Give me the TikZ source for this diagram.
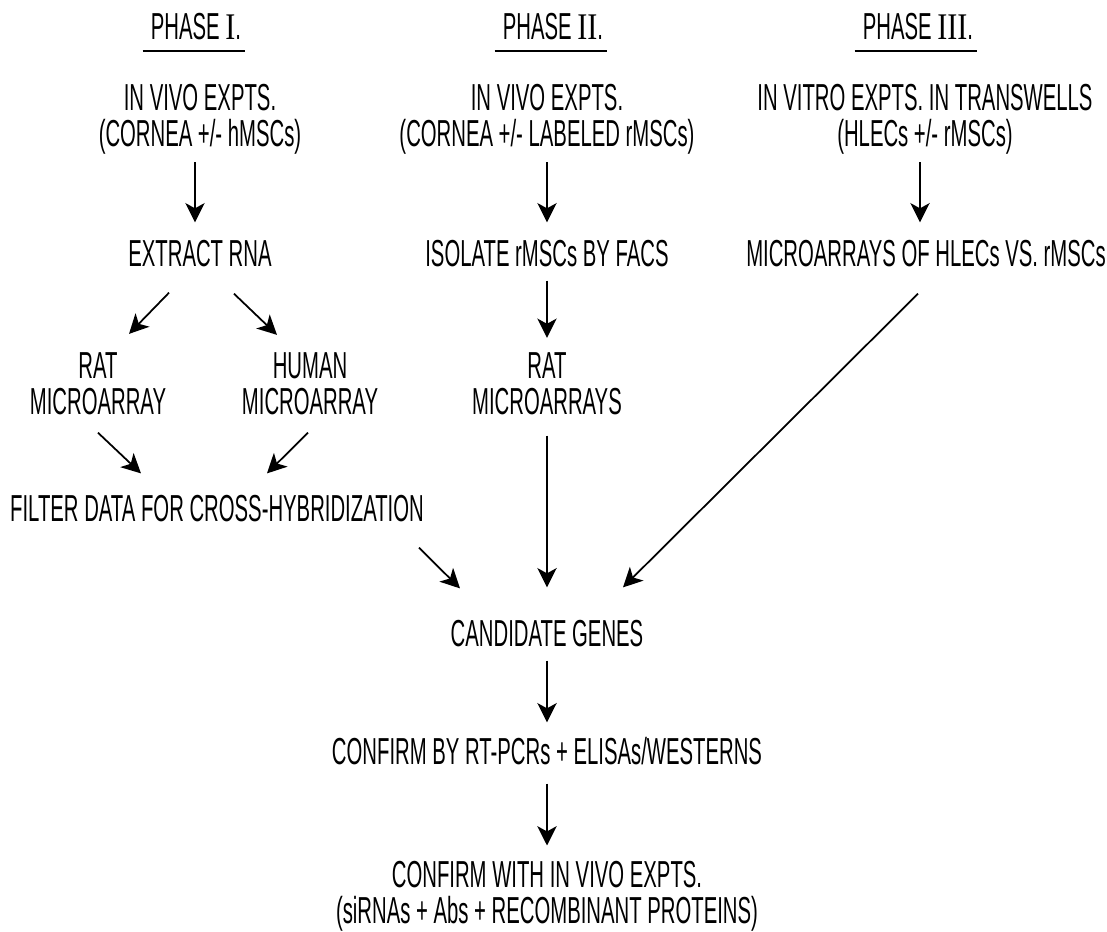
\documentclass[tikz,border=0pt]{standalone}
\usepackage{fontspec}
\setmainfont{Liberation Sans}[FakeStretch=0.54]
\newfontfamily\numfont{Liberation Serif}[FakeStretch=0.8]
\usepackage{tikz}
\usetikzlibrary{
  calc,        % Offsets from node anchors
  arrows.meta  % Stealth tips
}

\newcommand{\rnum}[1]{{\numfont #1}}

\begin{document}
\begin{tikzpicture}[x=0.02cm, y=-0.02cm,
    every node/.style={inner sep=0pt, anchor=base, align=center,
      font=\fontsize{21.4pt}{21pt}\selectfont},
    arr/.style={-{Stealth[length=11pt, width=11pt, inset=3pt]}, line width=1pt},
    uline/.style={line width=1.2pt}]
    \useasboundingbox (0,0) rectangle (1107,932);

    % Phase titles
    \node (phI) at (196,40) {PHASE \rnum{I}.};
    \node (phII) at (553,40) {PHASE \rnum{II}.};
    \node (phIII) at (918,40) {PHASE \rnum{III}.};
    \draw[uline] ($(phI.base west)+(-8,11)$) -- ($(phI.base east)+(4,11)$);
    \draw[uline] ($(phII.base west)+(-8,11)$) -- ($(phII.base east)+(4,11)$);
    \draw[uline] ($(phIII.base west)+(-8,11)$) -- ($(phIII.base east)+(4,11)$);

    % Experiments (base = last line)
    \node (vivoI) at (200,147) {IN VIVO EXPTS.\\(CORNEA +/- hMSCs)};
    \node (vivoII) at (547,147) {IN VIVO EXPTS.\\(CORNEA +/- LABELED rMSCs)};
    \node (vitro) at (925,147) {IN VITRO EXPTS. IN TRANSWELLS\\(HLECs +/- rMSCs)};

    % Second row
    \node (extract) at (200,267) {EXTRACT RNA};
    \node (isolate) at (547,267) {ISOLATE rMSCs BY FACS};
    \node (arrHL) at (926,267) {MICROARRAYS OF HLECs VS. rMSCs};

    % Microarrays
    \node (ratI) at (98,415) {RAT\\MICROARRAY};
    \node (human) at (310,415) {HUMAN\\MICROARRAY};
    \node (ratII) at (547,415) {RAT\\MICROARRAYS};
    \node (filter) at (217,522) {FILTER DATA FOR CROSS-HYBRIDIZATION};

    % Common steps
    \node (genes) at (547,647) {CANDIDATE GENES};
    \node (pcr) at (547,765) {CONFIRM BY RT-PCRs + ELISAs/WESTERNS};
    \node (final) at (547,924) {CONFIRM WITH IN VIVO EXPTS.\\(siRNAs + Abs + RECOMBINANT PROTEINS)};

    % Arrows, phase I
    \draw[arr] ($(vivoI.south)+(-5,7)$) -- ($(extract.north)+(-5,-18)$);
    \draw[arr] ($(extract.south)+(-31,25)$) -- ($(ratI.north)+(31,-18)$);
    \draw[arr] ($(extract.south)+(34,26)$) -- ($(human.north)+(-33,-17)$);
    \draw[arr] ($(ratI.south)+(0,17)$) -- ($(filter.north)+(-76,-22)$);
    \draw[arr] ($(human.south)+(-2,17)$) -- ($(filter.north)+(50,-22)$);
    \draw[arr] ($(filter.south)+(202,25)$) -- ($(genes.north)+(-87,-32)$);

    % Arrows, phase II
    \draw[arr] ($(vivoII.south)+(0,7)$) -- ($(isolate.north)+(0,-18)$);
    \draw[arr] ($(isolate.south)+(0,13)$) -- ($(ratII.north)+(0,-14)$);
    \draw[arr] ($(ratII.south)+(0,20)$) -- ($(genes.north)+(0,-33)$);

    % Arrows, phase III
    \draw[arr] ($(vitro.south)+(-5,7)$) -- ($(arrHL.north)+(-6,-18)$);
    \draw[arr] ($(arrHL.south)+(-8,26)$) -- ($(genes.north)+(76,-33)$);

    % Confirmation
    \draw[arr] ($(genes.south)+(0,13)$) -- ($(pcr.north)+(0,-15)$);
    \draw[arr] ($(pcr.south)+(0,18)$) -- ($(final.north)+(0,-15)$);
\end{tikzpicture}
\end{document}
